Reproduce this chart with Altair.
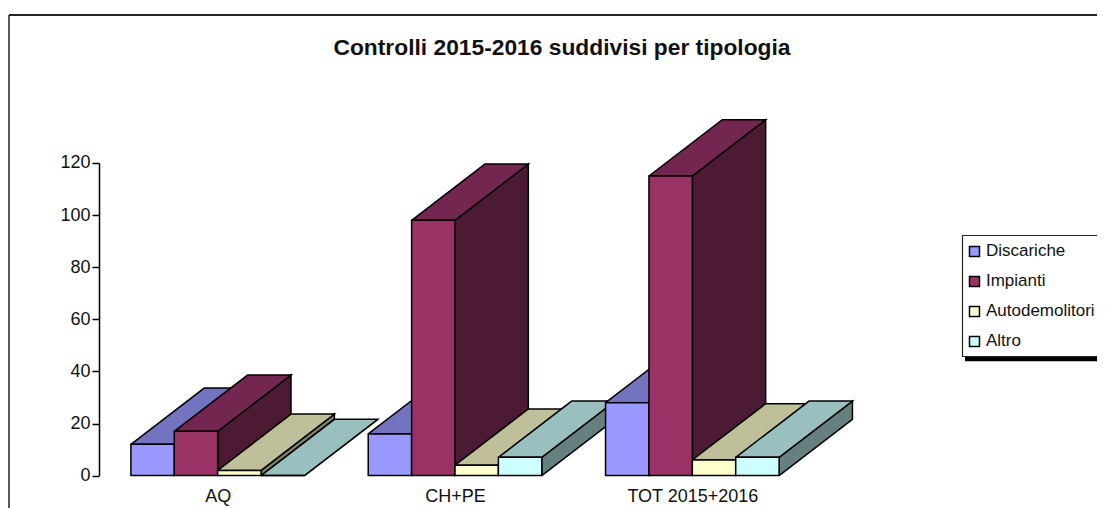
import altair as alt
import pandas as pd

categories = ["AQ", "CH+PE", "TOT 2015+2016"]
series = ["Discariche", "Impianti", "Autodemolitori", "Altro"]
discariche = [12, 16, 28]
impianti = [17, 98, 115]
autodemolitori = [2, 4, 6]
altro = [0, 7, 7]
all_values = [discariche, impianti, autodemolitori, altro]

front_colors = ["#9999FF", "#993366", "#FFFFCC", "#CCFFFF"]
top_colors = ["#7373BF", "#732650", "#BFBF99", "#99BFBF"]
side_colors = ["#4D4D80", "#4D1A33", "#80806A", "#668080"]

FONT = "Liberation Sans"
SLOTS_PER_CAT = 5.47
DEPTH_X = 1.69
DEPTH_Y = 21.6

fronts, polys = [], []
pid = 0
for c, cat in enumerate(categories):
    left = c * SLOTS_PER_CAT + (SLOTS_PER_CAT - len(series)) / 2
    for s, name in enumerate(series):
        v = all_values[s][c]
        x0, x1 = left + s, left + s + 1
        fronts.append({"serie": name, "x0": x0, "x1": x1, "v": v, "base": 0})
        top = [(x0, v), (x1, v), (x1 + DEPTH_X, v + DEPTH_Y), (x0 + DEPTH_X, v + DEPTH_Y), (x0, v)]
        side = [(x1, 0), (x1 + DEPTH_X, DEPTH_Y), (x1 + DEPTH_X, v + DEPTH_Y), (x1, v), (x1, 0)]
        for pts, col in [(side, side_colors[s]), (top, top_colors[s])]:
            pid += 1
            for i, (px, py) in enumerate(pts):
                polys.append({"poly": pid, "i": i, "px": px, "py": py, "col": col})

fronts = pd.DataFrame(fronts)
polys = pd.DataFrame(polys)

xscale = alt.Scale(domain=[0, 3 * SLOTS_PER_CAT], nice=False, zero=False)
yscale = alt.Scale(domain=[0, 120], nice=False)
centers = [(c + 0.5) * SLOTS_PER_CAT for c in range(len(categories))]
label_expr = "[" + ",".join(f"'{c}'" for c in categories) + f"][round(datum.value/{SLOTS_PER_CAT}-0.5)]"

xaxis = alt.Axis(values=centers, labelExpr=label_expr, title=None, domain=False, ticks=False,
                 grid=False, labelPadding=12, labelFontSize=18, labelFont=FONT, labelColor="#111111",
                 labelAngle=0, labelFlush=False, labelOverlap=False)
yaxis = alt.Axis(values=[0, 20, 40, 60, 80, 100, 120], title=None, grid=False, tickSize=7, tickColor="black",
                 domainColor="black", domainWidth=1.5, tickWidth=1.5, labelPadding=2, labelFontSize=18,
                 labelFont=FONT, labelColor="#111111")

faces_layer = alt.Chart(polys).mark_line(stroke="black", strokeWidth=1.5, strokeJoin="miter", clip=False).encode(
    x=alt.X("px:Q", scale=xscale, axis=xaxis),
    y=alt.Y("py:Q", scale=yscale, axis=yaxis),
    detail="poly:N",
    order="i:Q",
    fill=alt.Fill("col:N", scale=None),
)

front_layer = alt.Chart(fronts).mark_rect(stroke="black", strokeWidth=1.5, clip=False).encode(
    x=alt.X("x0:Q", scale=xscale, axis=xaxis),
    x2="x1:Q",
    y=alt.Y("v:Q", scale=yscale, axis=yaxis),
    y2="base:Q",
    fill=alt.Fill("serie:N", scale=alt.Scale(domain=series, range=front_colors),
                  legend=alt.Legend(title=None, orient="none", legendX=867, legendY=80, padding=0,
                                    symbolType="square",
                                    symbolSize=100, symbolStrokeColor="black", symbolStrokeWidth=1.5,
                                    labelFont=FONT, labelFontSize=17, labelColor="#111111",
                                    labelOffset=3, rowPadding=12, labelLimit=400)),
)

one = alt.Chart(pd.DataFrame({"title": ["Controlli 2015-2016 suddivisi per tipologia"]}))
frame_left = one.mark_rule(color="#222222", strokeWidth=1.5).encode(
    x=alt.value(-90), y=alt.value(-148), y2=alt.value(345))
frame_top = one.mark_rule(color="#222222", strokeWidth=2).encode(
    x=alt.value(-90), x2=alt.value(998), y=alt.value(-148))
shadow = one.mark_rule(color="black", strokeWidth=4.5).encode(
    x=alt.value(866), x2=alt.value(998), y=alt.value(196))
legend_box = one.mark_rect(fill="white", stroke="#222222", strokeWidth=1.2).encode(
    x=alt.value(863.5), x2=alt.value(1010), y=alt.value(72.5), y2=alt.value(193.5))
title = one.mark_text(font=FONT, fontSize=22.8, fontWeight="bold", color="#111111", align="center", baseline="alphabetic").encode(
    text="title:N", x=alt.value(463), y=alt.value(-108))

chart = alt.layer(frame_left, frame_top, shadow, legend_box, title, faces_layer, front_layer).resolve_scale(fill="independent").properties(
    width=712, height=312.6,
    autosize=alt.AutoSizeParams(type="none"),
    padding={"left": 91, "top": 155, "right": 286, "bottom": 32},
    background="white",
).configure_view(stroke=None)

chart.save("out.html", embed_options={"renderer": "svg", "actions": False})
